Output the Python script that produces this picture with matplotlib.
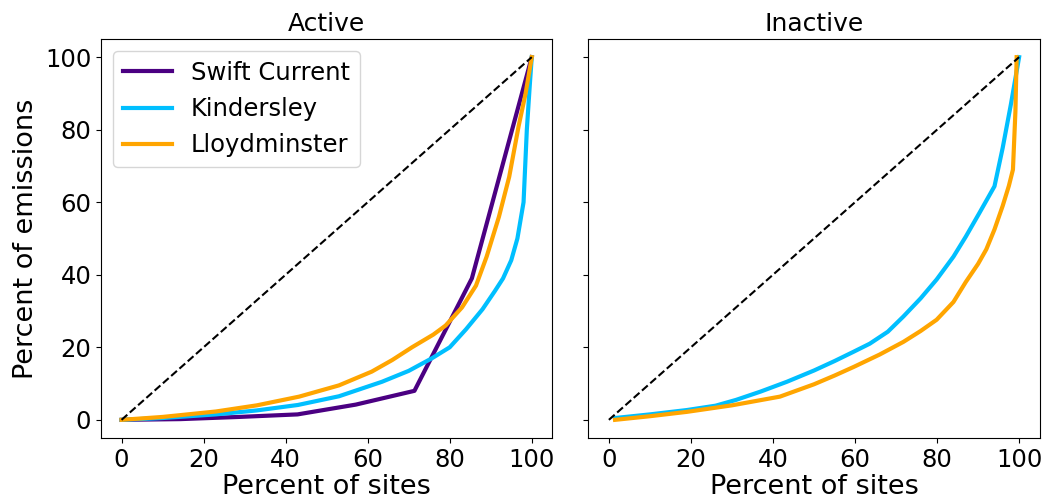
import matplotlib
matplotlib.use('Agg')
import matplotlib.pyplot as plt

# Lorenz-style curves: percent of sites vs percent of emissions
sc_act_x = [0, 14.3, 28.6, 42.9, 57.1, 71.4, 85.4, 100]
sc_act_y = [0, 0.2, 0.8, 1.5, 4.2, 8.0, 39, 100]

kin_act_x = [0, 10, 23, 33, 43, 53, 63.5, 70, 75.7, 80, 84, 88, 91, 93, 95, 96.5, 98, 98.8, 99.5, 100]
kin_act_y = [0, 0.5, 1.5, 2.6, 4.1, 6.5, 10.5, 13.5, 17, 20, 25, 30.5, 35.5, 39, 44, 50, 60, 80, 92, 100]

lloyd_act_x = [0, 10, 23, 33, 43.3, 53, 61, 66, 70.8, 76, 79, 83, 86.4, 89, 92, 94.5, 96.8, 98.5, 100]
lloyd_act_y = [0, 0.8, 2.3, 4.0, 6.4, 9.5, 13.3, 16.5, 20, 23.5, 26, 31, 37, 45, 56, 67, 81, 90, 100]

kin_inact_x = [1.5, 10, 19, 26, 31, 37, 43.4, 50, 55, 59.7, 63.6, 68, 71.8, 76, 79.9, 84, 87, 90.3, 94, 96, 98, 100]
kin_inact_y = [0.5, 1.5, 2.7, 3.9, 5.5, 7.8, 10.5, 13.6, 16.2, 18.8, 21, 24.3, 28.5, 33.5, 38.7, 45, 50.5, 57, 64.4, 75, 87, 100]

lloyd_inact_x = [1.5, 10, 19, 30, 41.7, 50, 55, 59.7, 66, 71.8, 76, 79.9, 84, 87, 90, 92, 94, 96, 97.5, 98.5, 99.1, 99.4]
lloyd_inact_y = [0, 1.0, 2.2, 4.0, 6.4, 9.8, 12.2, 14.6, 18.0, 21.5, 24.5, 27.6, 32.5, 38, 43, 47, 52.5, 59, 64.5, 69, 85, 100]

colors = {'Swift Current': '#4B0082', 'Kindersley': '#00BFFF', 'Lloydminster': '#FFA500'}

fig, (ax1, ax2) = plt.subplots(1, 2, figsize=(10.48, 5.04), dpi=100, sharey=True)
fig.subplots_adjust(left=0.0964, right=0.992, top=0.9226, bottom=0.131, wspace=0.08)

ax1.plot(sc_act_x, sc_act_y, color=colors['Swift Current'], lw=3, label='Swift Current')
ax1.plot(kin_act_x, kin_act_y, color=colors['Kindersley'], lw=3, label='Kindersley')
ax1.plot(lloyd_act_x, lloyd_act_y, color=colors['Lloydminster'], lw=3, label='Lloydminster')
ax1.plot([0, 100], [0, 100], 'k--', lw=1.5)

ax2.plot(kin_inact_x, kin_inact_y, color=colors['Kindersley'], lw=3)
ax2.plot(lloyd_inact_x, lloyd_inact_y, color=colors['Lloydminster'], lw=3)
ax2.plot([0, 100], [0, 100], 'k--', lw=1.5)

ax1.set_title('Active', fontsize=18)
ax2.set_title('Inactive', fontsize=18)
ax1.set_ylabel('Percent of emissions', fontsize=19.5)
ax1.set_xlabel('Percent of sites', fontsize=19.5, labelpad=2)
ax2.set_xlabel('Percent of sites', fontsize=19.5, labelpad=2)
for ax in (ax1, ax2):
    ax.set_xticks([0, 20, 40, 60, 80, 100])
    ax.set_yticks([0, 20, 40, 60, 80, 100])
    ax.tick_params(labelsize=17.5)
ax1.legend(loc='upper left', fontsize=17.5)

plt.savefig('out.png')
